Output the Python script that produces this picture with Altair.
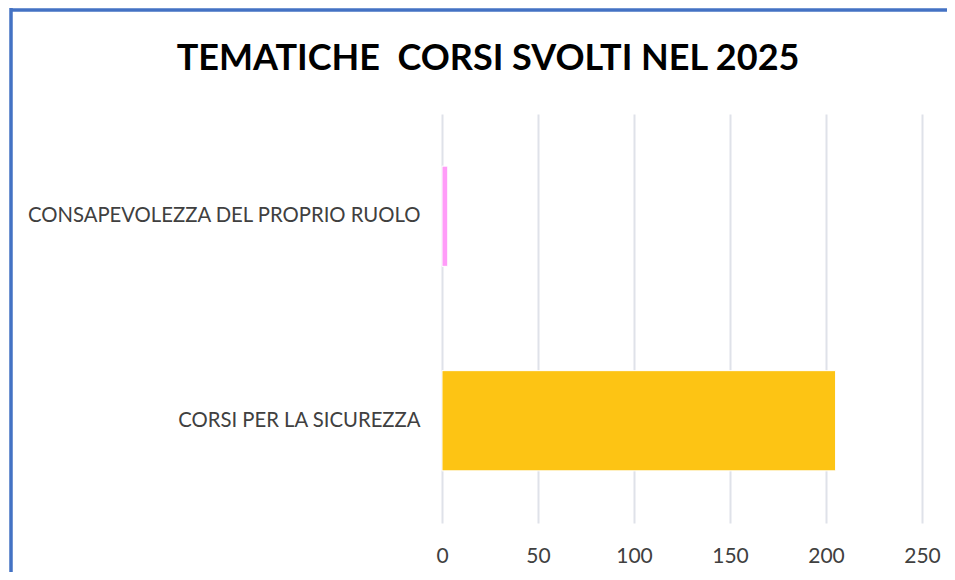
import altair as alt
import pandas as pd

categories = ["CONSAPEVOLEZZA DEL PROPRIO RUOLO", "CORSI PER LA SICUREZZA"]
values = [3, 205]
colors = ["#FF9CF8", "#FDC414"]
x_ticks = [0, 50, 100, 150, 200, 250]
title_text = "TEMATICHE\u00a0 CORSI SVOLTI NEL 2025"

df = pd.DataFrame({"tema": categories, "corsi": values, "colore": colors})
df_title = pd.DataFrame({"t": [title_text]})

W, H = 480, 409
PAD_L, PAD_T = 434, 106

bars = alt.Chart(df).mark_bar(stroke="white", strokeWidth=1).encode(
    y=alt.Y("tema:N", sort=categories, title=None,
            scale=alt.Scale(paddingInner=0.51, paddingOuter=0.255),
            axis=alt.Axis(ticks=False, domain=False, labelPadding=22,
                          labelFont="Lato", labelFontSize=20.3,
                          labelColor="#404040", labelLimit=600)),
    x=alt.X("corsi:Q", title=None,
            scale=alt.Scale(domain=[0, 250], nice=False),
            axis=alt.Axis(values=x_ticks, ticks=False, domain=False,
                          grid=True, gridColor="#DFE2E9", gridWidth=2,
                          labelFlush=False, labelOverlap=False,
                          labelPadding=22, labelFont="Lato", labelFontSize=21,
                          labelColor="#404040")),
    color=alt.Color("colore:N", scale=None),
)

title = alt.Chart(df_title).mark_text(
    font="Lato", fontSize=36, fontWeight="bold", color="#000000",
    align="center", baseline="alphabetic"
).encode(text="t:N", x=alt.value(46), y=alt.value(-44))

frame_left = alt.Chart(df).mark_rule(color="#4472C4", strokeWidth=3).encode(
    x=alt.value(-431), y=alt.value(-106), y2=alt.value(460)
)
frame_top = alt.Chart(df).mark_rule(color="#4472C4", strokeWidth=3).encode(
    x=alt.value(-432), x2=alt.value(520), y=alt.value(-104)
)

chart = alt.layer(bars, title, frame_left, frame_top).properties(
    width=W, height=H,
    autosize=alt.AutoSizeParams(type="none"),
    padding={"left": PAD_L, "top": PAD_T, "right": 25, "bottom": 49},
).configure_view(stroke=None)

chart.save("out.html", embed_options={"renderer": "svg", "actions": False})
